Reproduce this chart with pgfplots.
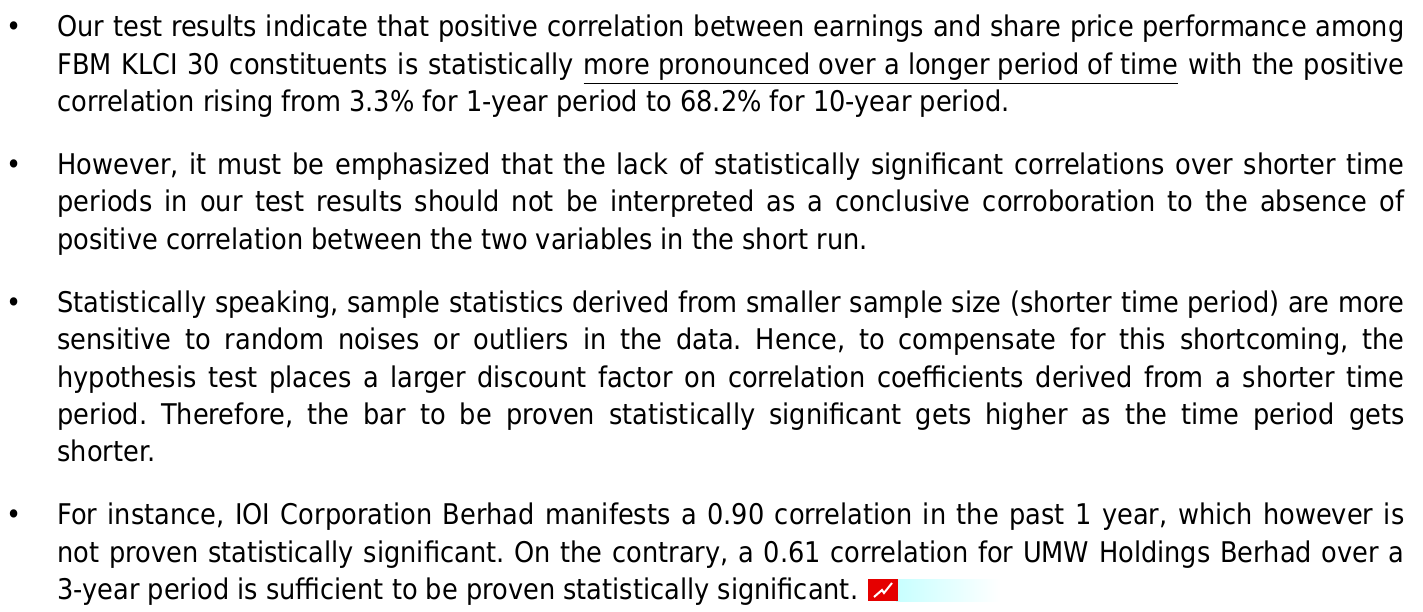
\documentclass[border=0pt]{standalone}
\usepackage{fontspec}
\setmainfont{DejaVu Sans Condensed}
\usepackage{pgfplots}
\pgfplotsset{compat=1.18}
\frenchspacing
\newlength\tw \setlength\tw{673.5pt}
\newcommand\jl[1]{\hbox to \tw{#1}}
\newcommand\lastl[1]{\hbox{#1}}
\newcommand\para[1]{\vtop{\hsize=\tw\fontsize{14.25pt}{18.75pt}\selectfont\frenchspacing\baselineskip=18.75pt\lineskiplimit=-20pt\relax #1}}
\newcommand\bul{\fontsize{14.25pt}{18.75pt}\selectfont •}
\begin{document}
\begin{tikzpicture}
\begin{axis}[scale only axis, width=711.5pt, height=305.5pt,
  xmin=0, xmax=1423, ymin=0, ymax=611, hide axis, clip=false]
\addplot[draw=none] coordinates {(0,0) (1423,611)};
% bullets
\node[anchor=base, inner sep=0] at (axis cs:14,574) {\bul};
\node[anchor=base, inner sep=0] at (axis cs:14,436.5) {\bul};
\node[anchor=base, inner sep=0] at (axis cs:14,299) {\bul};
\node[anchor=base, inner sep=0] at (axis cs:14,86.5) {\bul};
% paragraphs
\node[anchor=base west, inner sep=0] at (axis cs:57,574) {\para{%
\jl{Our test results indicate that positive correlation between earnings and share price performance among}%
\jl{FBM KLCI 30 constituents is statistically \underline{more pronounced over a longer period of time} with the positive}%
\lastl{correlation rising from 3.3\% for 1-year period to 68.2\% for 10-year period.}}};
\node[anchor=base west, inner sep=0] at (axis cs:57,436.5) {\para{%
\jl{However, it must be emphasized that the lack of statistically significant correlations over shorter time}%
\jl{periods in our test results should not be interpreted as a conclusive corroboration to the absence of}%
\lastl{positive correlation between the two variables in the short run.}}};
\node[anchor=base west, inner sep=0] at (axis cs:57,299) {\para{%
\jl{Statistically speaking, sample statistics derived from smaller sample size (shorter time period) are more}%
\jl{sensitive to random noises or outliers in the data. Hence, to compensate for this shortcoming, the}%
\jl{hypothesis test places a larger discount factor on correlation coefficients derived from a shorter time}%
\jl{period. Therefore, the bar to be proven statistically significant gets higher as the time period gets}%
\lastl{shorter.}}};
\node[anchor=base west, inner sep=0] at (axis cs:57,86.5) {\para{%
\jl{For instance, IOI Corporation Berhad manifests a 0.90 correlation in the past 1 year, which however is}%
\jl{not proven statistically significant. On the contrary, a 0.61 correlation for UMW Holdings Berhad over a}%
\lastl{3-year period is sufficient to be proven statistically significant.}}};
% small icon
\shade[left color=cyan!22, right color=white] (axis cs:896,10) rectangle (axis cs:1000,32);
\fill[red!90!black] (axis cs:868,10) rectangle (axis cs:898,32);
\draw[white, line width=1pt] (axis cs:874,14) -- (axis cs:882,21) -- (axis cs:884,18) -- (axis cs:892,28);
\end{axis}
\end{tikzpicture}
\end{document}
